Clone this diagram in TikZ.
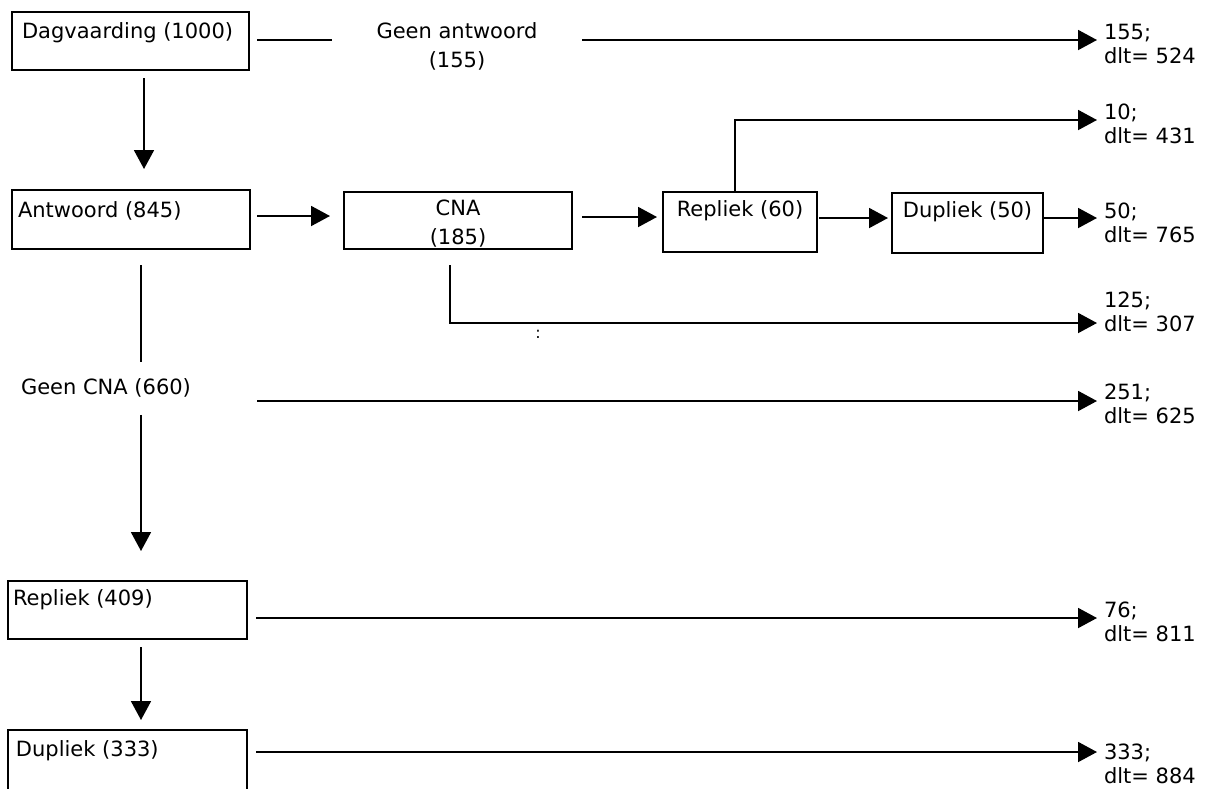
\documentclass[tikz,border=0pt]{standalone}
\usepackage{fontspec}
\setmainfont{DejaVu Sans}
\usetikzlibrary{arrows.meta,calc}
\begin{document}
\begin{tikzpicture}[x=1pt,y=-1pt,
  font=\fontsize{21}{26}\selectfont,
  box/.style={draw, line width=1.4pt, anchor=north west, inner sep=0pt, outer sep=0pt},
  intxt/.style={anchor=base west, inner sep=0pt, outer sep=0pt},
  ctxt/.style={anchor=base, inner sep=0pt, outer sep=0pt},
  conn/.style={line width=1.9pt},
  arr/.style={conn, -{Triangle[length=19pt,width=20pt]}},
  res/.style={anchor=north west, inner sep=0pt, outer sep=0pt, align=left, font=\fontsize{21}{24}\selectfont},
  mid/.style={anchor=north, inner sep=0pt, outer sep=0pt, align=center, font=\fontsize{21}{29}\selectfont}
]
\useasboundingbox (0,0) rectangle (1207,788);
\clip (0,0) rectangle (1207,788);

% boxes
\node[box, minimum width=237pt, minimum height=58pt] (dag) at (12,12) {};
\node[box, minimum width=238pt, minimum height=59pt] (ant) at (12,190) {};
\node[box, minimum width=228pt, minimum height=57pt] (cna) at (344,192) {};
\node[box, minimum width=154pt, minimum height=60pt] (rep60) at (663,192) {};
\node[box, minimum width=151pt, minimum height=60pt] (dup50) at (892,193) {};
\node[box, minimum width=239pt, minimum height=58pt] (rep409) at (8,581) {};
\node[box, minimum width=239pt, minimum height=70pt] (dup333) at (8,730) {};

% box texts
\node[intxt] (dagt) at (22,38) {Dagvaarding (1000)};
\node[intxt] (antt) at (18,217) {Antwoord (845)};
\node[mid] (cnat) at (458,200) {CNA\\(185)};
\node[ctxt] (rep60t) at (740,216) {Repliek (60)};
\node[ctxt] (dup50t) at (967.5,217) {Dupliek (50)};
\node[intxt] (rep409t) at (13,605) {Repliek (409)};
\node[intxt] (dup333t) at (16,756) {Dupliek (333)};

% free texts
\node[mid, minimum width=250pt] (ga) at (457,23) {Geen antwoord\\(155)};
\node[intxt] (gcna) at (21,394) {Geen CNA (660)};
\node[inner sep=0pt, font=\fontsize{16}{16}\selectfont] (colon) at (538,334) {:};

% result labels
\node[res] (r155) at (1104,24) {155;\\dlt= 524};
\node[res] (r10) at (1104,104.4) {10;\\dlt= 431};
\node[res] (r50) at (1104,203.4) {50;\\dlt= 765};
\node[res] (r125) at (1104,292.4) {125;\\dlt= 307};
\node[res] (r251) at (1104,384.4) {251;\\dlt= 625};
\node[res] (r76) at (1104,602.4) {76;\\dlt= 811};
\node[res] (r333) at (1104,744) {333;\\dlt= 884};

% connectors
\coordinate (a1) at ($(dag.north east)+(8,28)$);
\draw[conn] (a1) -- (ga.west |- a1);
\draw[arr] (ga.east |- a1) -- ($(r155.north west |- a1)+(-7,0)$);

\draw[arr] ($(dag.south)+(13.5,8)$) -- ($(ant.north)+(13,-21)$);
\draw[arr] ($(ant.north east)+(7,26)$) coordinate (s2) -- ($(cna.north west |- s2)+(-14,0)$);
\draw[arr] ($(cna.north east)+(10,25)$) coordinate (s3) -- ($(rep60.north west |- s3)+(-6,0)$);
\draw[arr] ($(rep60.north east)+(2,26)$) coordinate (s4) -- ($(dup50.north west |- s4)+(-4,0)$);
\draw[arr] ($(dup50.north east)+(0,25)$) coordinate (s5) -- ($(r50.north west |- s5)+(-7,0)$);
\draw[arr] ($(rep60.north)+(-5,0)$) |- ($(r10.north west)+(-7,15.6)$);
\draw[arr] ($(cna.south)+(-8,16)$) |- ($(r125.north west)+(-7,30.6)$);

\draw[conn] ($(ant.south)+(10,16)$) coordinate (v1) -- ($(gcna.north -| v1)+(0,-16)$);
\draw[arr] ($(gcna.south -| v1)+(0,18)$) -- ($(rep409.north -| v1)+(0,-30)$);
\draw[arr] ($(ant.east |- gcna.base)+(7,7)$) coordinate (s6) -- ($(r251.north west |- s6)+(-7,0)$);

\draw[arr] ($(rep409.east)+(9,8)$) coordinate (s7) -- ($(r76.north west |- s7)+(-7,0)$);
\draw[arr] ($(rep409.south)+(13.5,8)$) -- ($(dup333.north)+(13.5,-10)$);
\draw[arr] ($(dup333.north east)+(9,22)$) coordinate (s8) -- ($(r333.north west |- s8)+(-7,0)$);
\end{tikzpicture}
\end{document}
